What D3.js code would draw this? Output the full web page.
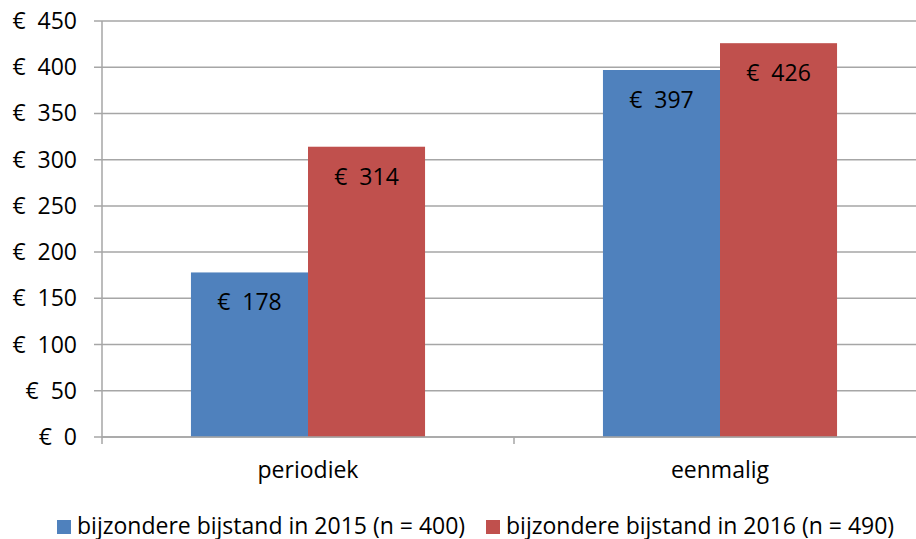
<!DOCTYPE html>
<html>
<head>
<meta charset="utf-8">
<script src="https://cdn.jsdelivr.net/npm/d3@7"></script>
<style>
  body { margin: 0; background: #fff; }
  text { font-family: "Open Sans", Lato, sans-serif; fill: #000; white-space: pre; font-size: 23px; }
</style>
</head>
<body>
<script>
var categories = ["periodiek", "eenmalig"];
var seriesNames = ["bijzondere bijstand in 2015 (n = 400)", "bijzondere bijstand in 2016 (n = 490)"];
var values2015 = [178, 397];
var values2016 = [314, 426];
var yTicks = [0, 50, 100, 150, 200, 250, 300, 350, 400, 450];
var colors = ["#4f81bd", "#c0504d"];

var width = 916, height = 539;
var svg = d3.select("body").append("svg")
    .attr("width", width)
    .attr("height", height);

var pLeft = 102, pRight = 926, pTop = 21, pBottom = 437;
var gridColor = "#a6a6a6";

var y = d3.scaleLinear().domain([0, 450]).range([pBottom, pTop]);
var x0 = d3.scaleBand().domain(categories).range([pLeft, pRight]);
var x1 = d3.scaleBand().domain([0, 1]).range([0, x0.bandwidth()]).paddingOuter(0.76).paddingInner(0);

// gridlines
svg.append("g").selectAll("line")
    .data(yTicks)
    .enter().append("line")
    .attr("x1", pLeft - 8)
    .attr("x2", pRight)
    .attr("y1", function(d) { return y(d); })
    .attr("y2", function(d) { return y(d); })
    .attr("stroke", gridColor)
    .attr("stroke-width", 1.5);

// tick labels
svg.append("g").selectAll("text")
    .data(yTicks)
    .enter().append("text")
    .attr("x", 77)
    .attr("y", function(d) { return y(d) + 8; })
    .attr("text-anchor", "end")
    .text(function(d) { return "€  " + d; });

// bars
var data = categories.map(function(c, i) {
    return { cat: c, vals: [values2015[i], values2016[i]] };
});
var groups = svg.append("g").selectAll("g")
    .data(data)
    .enter().append("g")
    .attr("transform", function(d) { return "translate(" + x0(d.cat) + ",0)"; });

groups.selectAll("rect")
    .data(function(d) { return d.vals; })
    .enter().append("rect")
    .attr("x", function(d, i) { return x1(i); })
    .attr("width", x1.bandwidth())
    .attr("y", function(d) { return y(d); })
    .attr("height", function(d) { return pBottom - y(d); })
    .attr("fill", function(d, i) { return colors[i]; });

groups.selectAll("text.val")
    .data(function(d) { return d.vals; })
    .enter().append("text")
    .attr("class", "val")
    .attr("x", function(d, i) { return x1(i) + x1.bandwidth() / 2; })
    .attr("y", function(d) { return y(d) + 38; })
    .attr("text-anchor", "middle")
    .text(function(d) { return "€  " + d; });

// axes
svg.append("line")
    .attr("x1", pLeft).attr("x2", pLeft)
    .attr("y1", pTop).attr("y2", pBottom + 7)
    .attr("stroke", gridColor).attr("stroke-width", 1.5);
svg.append("line")
    .attr("x1", pLeft).attr("x2", pRight)
    .attr("y1", pBottom).attr("y2", pBottom)
    .attr("stroke", gridColor).attr("stroke-width", 1.5);
svg.append("g").selectAll("line")
    .data(categories.slice(1))
    .enter().append("line")
    .attr("x1", function(d) { return x0(d); })
    .attr("x2", function(d) { return x0(d); })
    .attr("y1", pBottom).attr("y2", pBottom + 7)
    .attr("stroke", gridColor).attr("stroke-width", 1.5);

svg.append("g").selectAll("text")
    .data(categories)
    .enter().append("text")
    .attr("x", function(d) { return x0(d) + x0.bandwidth() / 2; })
    .attr("y", 478)
    .attr("text-anchor", "middle")
    .text(function(d) { return d; });

// legend
var legendX = [57, 486];
var leg = svg.append("g").selectAll("g")
    .data(seriesNames)
    .enter().append("g")
    .attr("transform", function(d, i) { return "translate(" + legendX[i] + ",0)"; });
leg.append("rect")
    .attr("x", 0).attr("y", 520)
    .attr("width", 14).attr("height", 14)
    .attr("fill", function(d, i) { return colors[i]; });
leg.append("text")
    .attr("x", 20).attr("y", 534)
    .text(function(d) { return d; });
</script>
</body>
</html>
